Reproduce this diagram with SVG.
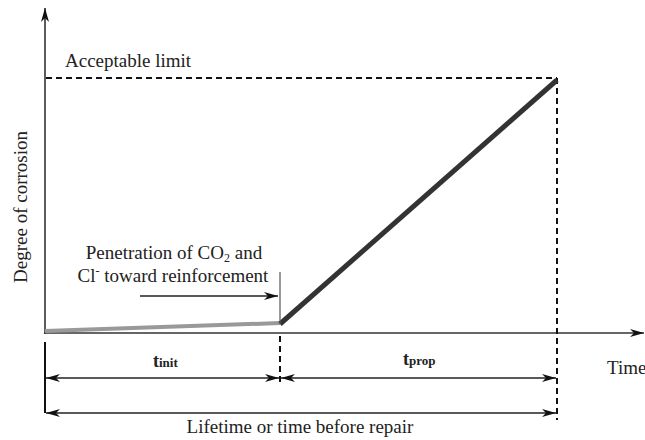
<svg xmlns="http://www.w3.org/2000/svg" width="645" height="440" viewBox="0 0 645 440">
<defs>
<marker id="ah" viewBox="0 0 14 8" refX="14" refY="4" markerWidth="14" markerHeight="8" markerUnits="userSpaceOnUse" orient="auto-start-reverse">
<path d="M0,0 L14,4 L0,8 L4,4 Z" fill="#111"/>
</marker>
</defs>
<style>
.t{font-size:19px;}
.b{font-size:18px;font-weight:bold;}
.ax{stroke:#333;stroke-width:1.6;fill:none;}
.dash{stroke:#111;stroke-width:2;stroke-dasharray:6,4;fill:none;}
.dim{stroke:#222;stroke-width:1.4;fill:none;}
</style>
<rect width="645" height="440" fill="#fff"/>
<g id="connectors">
<line class="ax" x1="45" y1="334" x2="45" y2="8" marker-end="url(#ah)"/>
<line class="ax" x1="44" y1="333" x2="644" y2="333" marker-end="url(#ah)"/>
<line class="dash" x1="46" y1="78" x2="557" y2="78"/>
<line class="dash" x1="557" y1="78" x2="557" y2="420"/>
<line x1="45" y1="331" x2="280" y2="323" stroke="#999" stroke-width="4"/>
<line x1="280" y1="324" x2="557" y2="80" stroke="#333" stroke-width="5"/>
<line x1="280" y1="272" x2="280" y2="324" stroke="#555" stroke-width="1.2"/>
<line class="dash" x1="280" y1="336" x2="280" y2="385" stroke-width="1.6"/>
<line class="dim" x1="140" y1="296" x2="278" y2="296" marker-end="url(#ah)"/>
<line x1="45" y1="342" x2="45" y2="413" stroke="#111" stroke-width="2"/>
<line class="dim" x1="46" y1="378" x2="279" y2="378" marker-start="url(#ah)" marker-end="url(#ah)"/>
<line class="dim" x1="281" y1="378" x2="556" y2="378" marker-start="url(#ah)" marker-end="url(#ah)"/>
<line class="dim" x1="46" y1="413" x2="556" y2="413" marker-start="url(#ah)" marker-end="url(#ah)"/>
</g>
<g id="labels" font-family="Liberation Serif, DejaVu Serif, serif" fill="#222">
<text class="t" x="65" y="67">Acceptable limit</text>
<text class="t" x="174" y="259" text-anchor="middle">Penetration of CO<tspan font-size="12" dy="3">2</tspan><tspan dy="-3"> and</tspan></text>
<text class="t" x="173" y="282" text-anchor="middle">Cl<tspan font-size="12" dy="-7">-</tspan><tspan dy="7"> toward reinforcement</tspan></text>
<text class="t" transform="translate(27,207) rotate(-90)" text-anchor="middle">Degree of corrosion</text>
<text class="t" x="607" y="374">Time</text>
<text class="b" x="153" y="367">t<tspan font-size="13">init</tspan></text>
<text class="b" x="403" y="365">t<tspan font-size="13">prop</tspan></text>
<text class="t" x="300" y="433" text-anchor="middle">Lifetime or time before repair</text>
</g>
</svg>
